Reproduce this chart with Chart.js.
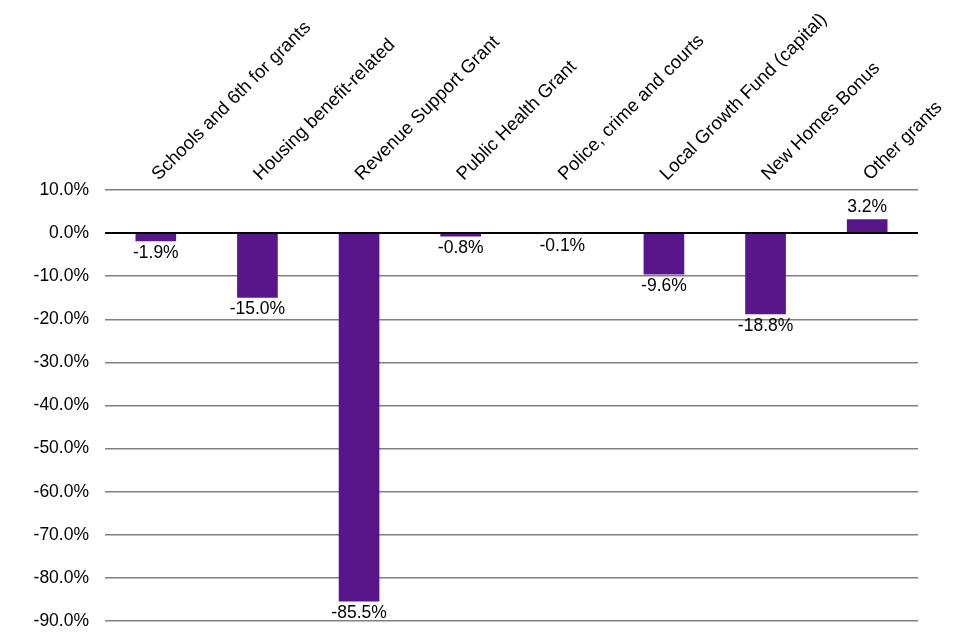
<!DOCTYPE html>
<html>
<head>
<meta charset="utf-8">
<title>Change in grants</title>
<script src="https://cdn.jsdelivr.net/npm/chart.js@4/dist/chart.umd.min.js"></script>
<style>
  html, body { margin: 0; padding: 0; background: #fff; }
  #wrap { width: 960px; height: 640px; }
</style>
</head>
<body>
<div id="wrap"><canvas id="grantChart" width="960" height="640"></canvas></div>
<script>
// categories and values
const categories = [
  "Schools and 6th for grants",
  "Housing benefit-related",
  "Revenue Support Grant",
  "Public Health Grant",
  "Police, crime and courts",
  "Local Growth Fund (capital)",
  "New Homes Bonus",
  "Other grants"
];
const changePct = [-1.9, -15.0, -85.5, -0.8, -0.1, -9.6, -18.8, 3.2];
const yTicks = [10, 0, -10, -20, -30, -40, -50, -60, -70, -80, -90];

const FONT = "'Liberation Sans', Arial, sans-serif";
const PURPLE = "#58168a";

// writes the % value just past the end of each bar
const valueLabels = {
  id: "valueLabels",
  afterDatasetsDraw(chart) {
    const ctx = chart.ctx;
    const meta = chart.getDatasetMeta(0);
    ctx.save();
    ctx.font = "17.5px " + FONT;
    ctx.fillStyle = "#000";
    ctx.textAlign = "center";
    meta.data.forEach((bar, i) => {
      const v = changePct[i];
      if (v < 0) {
        ctx.textBaseline = "top";
        ctx.fillText(v.toFixed(1) + "%", bar.x, Math.max(bar.y, bar.base) + 3);
      } else {
        ctx.textBaseline = "bottom";
        ctx.fillText(v.toFixed(1) + "%", bar.x, Math.min(bar.y, bar.base) - 3);
      }
    });
    ctx.restore();
  }
};

// slanted category names above the plot, starting at each category centre
const slantedLabels = {
  id: "slantedLabels",
  afterDraw(chart) {
    const ctx = chart.ctx;
    const x = chart.scales.x;
    ctx.save();
    ctx.font = "18.5px " + FONT;
    ctx.fillStyle = "#000";
    ctx.textAlign = "left";
    ctx.textBaseline = "alphabetic";
    categories.forEach((name, i) => {
      ctx.save();
      ctx.translate(x.getPixelForTick(i) + 3, chart.chartArea.top - 9);
      ctx.rotate(-Math.PI / 4);
      ctx.fillText(name, 0, 0);
      ctx.restore();
    });
    ctx.restore();
  }
};

const ctx = document.getElementById("grantChart").getContext("2d");
const grantChart = new Chart(ctx, {
  type: "bar",
  data: {
    labels: categories,
    datasets: [{
      data: changePct,
      backgroundColor: PURPLE,
      borderWidth: 0,
      categoryPercentage: 1.0,
      barPercentage: 0.4
    }]
  },
  options: {
    responsive: false,
    animation: false,
    layout: { padding: { top: 0, right: 42, bottom: 19, left: 0 } },
    plugins: {
      legend: { display: false },
      tooltip: { enabled: false }
    },
    scales: {
      x: {
        position: "top",
        grid: { display: false, drawTicks: false },
        border: { display: false },
        ticks: { display: false },
        afterFit(scale) { scale.height = 190; }
      },
      y: {
        min: -90,
        max: 10,
        afterBuildTicks(scale) {
          scale.ticks = yTicks.map(v => ({ value: v }));
        },
        grid: {
          drawTicks: false,
          color: ctx => ctx.tick && ctx.tick.value === 0 ? "#000" : "#808080",
          lineWidth: ctx => ctx.tick && ctx.tick.value === 0 ? 2 : 1.5
        },
        border: { display: false },
        ticks: {
          padding: 16,
          color: "#000",
          font: { family: FONT, size: 17.5 },
          callback: v => v.toFixed(1) + "%"
        },
        afterFit(scale) {
          scale.width = 105;
          scale.paddingTop = 0;
          scale.paddingBottom = 0;
        }
      }
    }
  },
  plugins: [valueLabels, slantedLabels]
});
</script>
</body>
</html>
